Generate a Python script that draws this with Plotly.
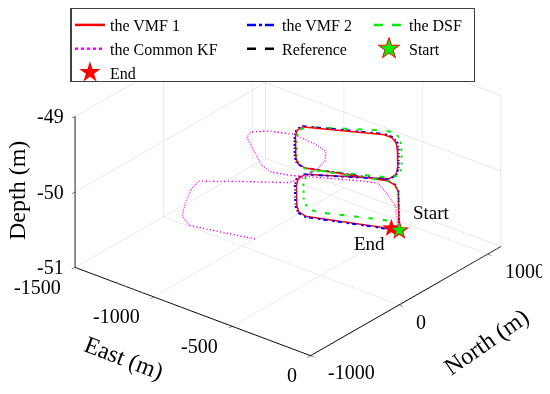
import plotly.graph_objects as go

# ---------------- data (East, North, Depth in metres) ----------------
vmf1_east = [0, -158, -258, -312, -368, -775, -831, -881, -1024, -1060, -1058, -695, -642, -591,
             -537, -422, -380, -379, -732, -730, -695, -552, -501, -445, -85, -39]
vmf1_north = [0, 274, 448, 509, 528, 312, 331, 396, 645, 728, 792, 1061, 1060, 1015,
              933, 734, 638, 557, 237, 156, 73, -176, -242, -260, -55, -45]
vmf1_depth = [-50.0] * 26

vmf2_east = [3, -156, -257, -314, -372, -780, -838, -889, -1032, -1068, -1064, -697, -641, -585,
             -531, -417, -376, -376, -737, -737, -702, -556, -503, -443, -80, -34]
vmf2_north = [-4, 272, 449, 514, 533, 310, 330, 397, 650, 735, 801, 1072, 1070, 1022,
              936, 733, 636, 553, 231, 150, 66, -185, -252, -270, -62, -52]
vmf2_depth = [-50.0] * 26

ref_east = vmf1_east[:]
ref_north = vmf1_north[:]
ref_depth = [-50.0] * 26

dsf_east = [0, -158, -258, -312, -368, -764, -819, -870, -1013, -1052, -1046, -724, -666, -604,
            -536, -407, -368, -374, -725, -724, -682, -553, -484, -427, -123, -55]
dsf_north = [0, 274, 448, 509, 528, 304, 323, 388, 637, 737, 806, 1111, 1135, 1083,
             975, 751, 651, 583, 327, 246, 129, -95, -160, -157, 45, 61]
dsf_depth = [-50.0] * 26

kf_east = [-11, -169, -298, -393, -478, -655, -787, -875, -957, -1095, -1205, -1225, -1166, -1047,
           -885, -807, -747, -721, -714, -737, -939, -1095, -1069, -993, -926, -834, -674, -479]
kf_north = [8, 260, 382, 458, 403, 262, 154, 115, 146, 297, 419, 499, 587, 661,
            639, 604, 488, 353, 196, 67, -143, -321, -456, -657, -807, -888, -829, -752]
kf_depth = [-50.0] * 28

start_e, start_n, start_d = [0], [0], [-50.0]
end_e, end_n, end_d = [-45], [-10], [-50.0]

east_range = [-1500, 0]
north_range = [-1000, 1150]
depth_range = [-51, -49]
east_ticks = [-1500, -1000, -500, 0]
north_ticks = [-1000, 0, 1000]
depth_ticks = [-51, -50, -49]

SERIF = "Liberation Serif, Times New Roman, serif"
PX = 8  # page offset of the plot inside the browser window
W, H = 550, 394


def px_x(x):
    return (x - PX) / W


def px_y(y):
    return 1 - (y - PX) / H


fig = go.Figure()

fig.add_trace(go.Scatter3d(x=kf_east, y=kf_north, z=kf_depth, mode="lines",
                           line=dict(color="#ff00ff", width=3, dash="dot"),
                           name="the Common KF", showlegend=False))
fig.add_trace(go.Scatter3d(x=ref_east, y=ref_north, z=ref_depth, mode="lines",
                           line=dict(color="black", width=3, dash="dash"),
                           name="Reference", showlegend=False))
fig.add_trace(go.Scatter3d(x=dsf_east, y=dsf_north, z=dsf_depth, mode="lines",
                           line=dict(color="#00ee00", width=4, dash="dash"),
                           name="the DSF", showlegend=False))
fig.add_trace(go.Scatter3d(x=vmf2_east, y=vmf2_north, z=vmf2_depth, mode="lines",
                           line=dict(color="#0000ff", width=4, dash="dashdot"),
                           name="the VMF 2", showlegend=False))
fig.add_trace(go.Scatter3d(x=vmf1_east, y=vmf1_north, z=vmf1_depth, mode="lines",
                           line=dict(color="#ff0000", width=3),
                           name="the VMF 1", showlegend=False))
# star markers
fig.add_trace(go.Scatter3d(x=end_e, y=end_n, z=end_d, mode="text", text=["★"],
                           textposition="middle center",
                           textfont=dict(color="#ff0000", size=24, family="DejaVu Sans"),
                           showlegend=False))
fig.add_trace(go.Scatter3d(x=start_e, y=start_n, z=start_d, mode="text", text=["★"],
                           textposition="middle center",
                           textfont=dict(color="#ff0000", size=26, family="DejaVu Sans"),
                           showlegend=False))
fig.add_trace(go.Scatter3d(x=start_e, y=start_n, z=start_d, mode="text", text=["★"],
                           textposition="middle center",
                           textfont=dict(color="#00ee00", size=19, family="DejaVu Sans"),
                           showlegend=False))

# legend background box (first legend, drawn underneath the three columns)
fig.add_trace(go.Scatter(x=[None], y=[None], mode="lines", line=dict(width=0),
                         name="\u00a0" * 95 + "<br>\u00a0<br>\u00a0", legend="legend",
                         hoverinfo="skip"))


# legend entries (three columns)
def proxy(name, legend, **kw):
    fig.add_trace(go.Scatter(x=[None], y=[None], name=name, legend=legend, **kw))


proxy("the VMF 1", "legend2", mode="lines", line=dict(color="#ff0000", width=2.5))
proxy("the Common KF", "legend2", mode="lines", line=dict(color="#ff00ff", width=2.5, dash="dot"))
proxy("End", "legend2", mode="markers", marker=dict(symbol="star", size=16, color="#ff0000"))
proxy("the VMF 2", "legend3", mode="lines", line=dict(color="#0000ff", width=2.5, dash="dashdot"))
proxy("Reference", "legend3", mode="lines", line=dict(color="black", width=2.5, dash="dash"))
proxy("the DSF", "legend4", mode="lines", line=dict(color="#00ee00", width=2.5, dash="dash"))
proxy("Start", "legend4", mode="markers",
      marker=dict(symbol="star", size=16, color="#00ee00", line=dict(color="#ff0000", width=1)))

axis_common = dict(showbackground=False, showgrid=True, gridcolor="#d4d4d4", gridwidth=1,
                   showline=True, linecolor="black", linewidth=2, ticks="outside",
                   tickcolor="black", ticklen=5, zeroline=False, showspikes=False,
                   showticklabels=False, title=dict(text=""))

legend_common = dict(font=dict(family=SERIF, size=16, color="black"),
                     bgcolor="rgba(0,0,0,0)", borderwidth=0, tracegroupgap=0,
                     xanchor="left", yanchor="top", orientation="v")

title_font = dict(family=SERIF, size=24, color="black")
tick_font = dict(family=SERIF, size=20, color="black")

# tick labels anchored on the axis edges of the scene (horizontal text, as in the original)
scene_ann = []
for v in east_ticks:
    scene_ann.append(dict(x=v, y=north_range[0], z=depth_range[0], text=str(v),
                          showarrow=False, xanchor="right", yanchor="middle",
                          xshift=-12, yshift=-20, font=tick_font))
for v in north_ticks:
    scene_ann.append(dict(x=east_range[1], y=v, z=depth_range[0], text=str(v),
                          showarrow=False, xanchor="left", yanchor="middle",
                          xshift=15, yshift=-17, font=tick_font))
for v in depth_ticks:
    scene_ann.append(dict(x=east_range[0], y=north_range[0], z=v, text=str(v),
                          showarrow=False, xanchor="right", yanchor="middle",
                          xshift=-9, yshift=0, font=tick_font))
scene_ann += [
    dict(x=start_e[0], y=start_n[0], z=start_d[0], text="Start", showarrow=False,
         xshift=32, yshift=17, font=dict(family=SERIF, size=19, color="black")),
    dict(x=end_e[0], y=end_n[0], z=end_d[0], text="End", showarrow=False,
         xshift=-22, yshift=-16, font=dict(family=SERIF, size=19, color="black")),
]

fig.update_layout(
    width=W, height=H, margin=dict(l=0, r=0, t=0, b=0, autoexpand=False),
    paper_bgcolor="white", plot_bgcolor="white",
    xaxis=dict(visible=False), yaxis=dict(visible=False),
    scene=dict(
        domain=dict(x=[0.0, 1.0], y=[0.10, 1.0]),
        xaxis=dict(range=east_range, tickvals=east_ticks, **axis_common),
        yaxis=dict(range=north_range, tickvals=north_ticks, **axis_common),
        zaxis=dict(range=depth_range, tickvals=depth_ticks, **axis_common),
        aspectmode="manual", aspectratio=dict(x=1.706, y=1.706, z=0.96),
        camera=dict(projection=dict(type="orthographic"),
                    center=dict(x=-0.0153, y=-0.0259, z=-0.0201),
                    eye=dict(x=0.8758, y=-1.1278, z=0.721),
                    up=dict(x=0, y=0, z=1)),
        annotations=scene_ann,
    ),
    annotations=[
        dict(text="Depth (m)", x=px_x(17), y=px_y(191), xref="paper", yref="paper",
             xanchor="center", yanchor="middle", showarrow=False, textangle=-90,
             font=title_font),
        dict(text="East (m)", x=px_x(124), y=px_y(358), xref="paper", yref="paper",
             xanchor="center", yanchor="middle", showarrow=False, textangle=21,
             font=title_font),
        dict(text="North (m)", x=px_x(486), y=px_y(342), xref="paper", yref="paper",
             xanchor="center", yanchor="middle", showarrow=False, textangle=-35,
             font=title_font),
    ],
    legend=dict(x=px_x(70), y=px_y(7), xanchor="left", yanchor="top", bgcolor="white",
                bordercolor="#404040", borderwidth=1.5, tracegroupgap=0,
                font=dict(family=SERIF, size=15, color="black"), itemclick=False,
                itemdoubleclick=False),
    legend2=dict(x=px_x(70), y=px_y(8), **legend_common),
    legend3=dict(x=px_x(242), y=px_y(8), **legend_common),
    legend4=dict(x=px_x(369), y=px_y(8), **legend_common),
    showlegend=True,
)

fig.write_html("out.html")
